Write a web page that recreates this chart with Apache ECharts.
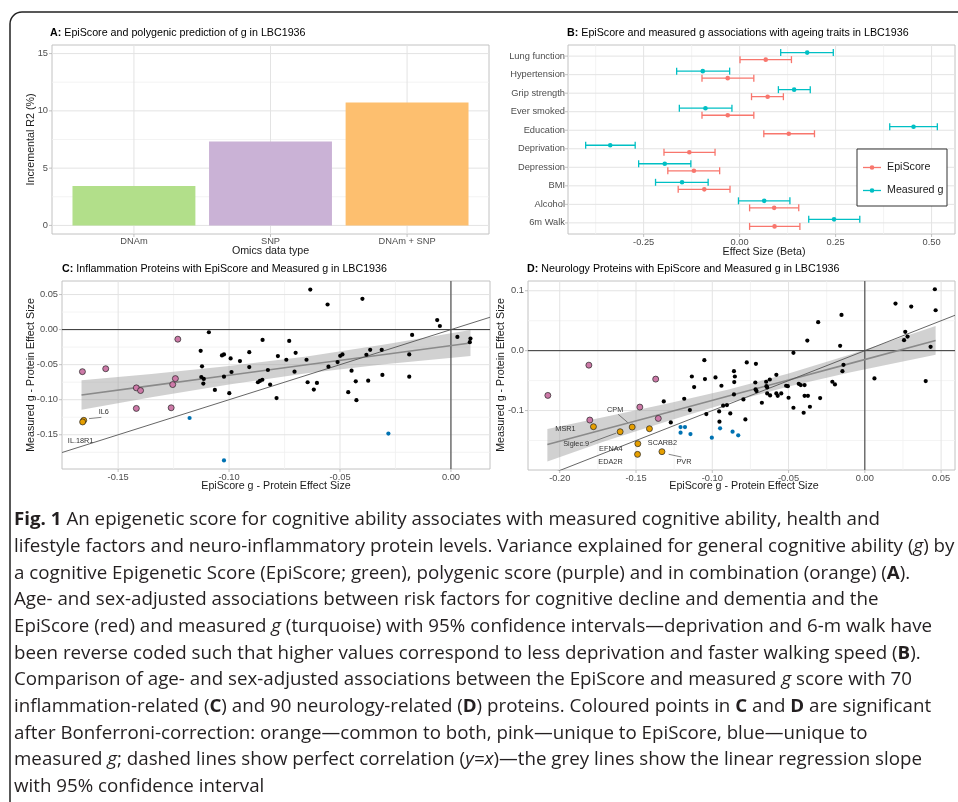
<!DOCTYPE html>
<html><head><meta charset="utf-8">
<script src="https://cdn.jsdelivr.net/npm/echarts@6/dist/echarts.min.js"></script>
<style>html,body{margin:0;padding:0;background:#fff}#main{width:958px;height:802px}</style>
</head><body><div id="main"></div>
<script>
// ---------- Panel A data ----------
const omicsCategories = ['DNAm', 'SNP', 'DNAm + SNP'];
const incrementalR2 = [3.44, 7.32, 10.72];
const aYTicks = [0, 5, 10, 15];
const aYTickLabels = ['0', '5', '10', '15'];

// ---------- Panel B data ----------
const traitCategories = ['Lung function','Hypertension','Grip strength','Ever smoked','Education','Deprivation','Depression','BMI','Alcohol','6m Walk'];
const episcoreBeta = [0.068,-0.031,0.073,-0.031,0.128,-0.131,-0.119,-0.092,0.090,0.091];
const episcoreLo   = [0.001,-0.098,0.031,-0.098,0.063,-0.197,-0.187,-0.160,0.026,0.026];
const episcoreHi   = [0.135,0.037,0.114,0.037,0.195,-0.064,-0.052,-0.025,0.154,0.157];
const measuredBeta = [0.176,-0.096,0.142,-0.089,0.453,-0.337,-0.195,-0.150,0.064,0.246];
const measuredLo   = [0.107,-0.164,0.101,-0.157,0.391,-0.401,-0.263,-0.219,-0.003,0.180];
const measuredHi   = [0.244,-0.026,0.184,-0.020,0.515,-0.272,-0.127,-0.082,0.131,0.313];
const bXTicks = [-0.25, 0, 0.25, 0.5];
const bXTickLabels = ['-0.25', '0.00', '0.25', '0.50'];

// ---------- Panel C data (EpiScore x, Measured g y) ----------
const cBlack = [[-0.1091,-0.0038],[-0.1128,-0.0303],[-0.1032,-0.0368],[-0.1023,-0.0354],[-0.0993,-0.0411],[-0.0951,-0.0449],[-0.0909,-0.0322],[-0.1122,-0.0524],[-0.0909,-0.0534],[-0.0989,-0.0605],[-0.1125,-0.0676],[-0.1114,-0.0704],[-0.1023,-0.0671],[-0.1116,-0.0770],[-0.1064,-0.0860],[-0.0999,-0.0907],[-0.0870,-0.0751],[-0.0861,-0.0732],
[-0.0634,0.0571],[-0.0556,0.0358],[-0.0399,0.0439],[-0.0062,0.0136],[-0.0050,0.0051],[-0.0175,-0.0076],[0.0029,-0.0105],[0.0088,-0.0128],[0.0085,-0.0180],[-0.0849,-0.0147],[-0.0729,-0.0161],[-0.0780,-0.0378],[-0.0700,-0.0331],[-0.0742,-0.0430],[-0.0651,-0.0430],[-0.0825,-0.0576],[-0.0705,-0.0600],[-0.0511,-0.0463],[-0.0499,-0.0374],[-0.0489,-0.0354],[-0.0552,-0.0529],[-0.0381,-0.0359],[-0.0364,-0.0288],[-0.0312,-0.0288],[-0.0188,-0.0354],[-0.0448,-0.0586],[-0.0188,-0.0671],[-0.0309,-0.0647],[-0.0429,-0.0737],[-0.0373,-0.0728],[-0.0850,-0.0715],[-0.0815,-0.0784],[-0.0646,-0.0751],[-0.0604,-0.0761],[-0.0618,-0.0855],[-0.0786,-0.0977],[-0.0463,-0.0892],[-0.0426,-0.1006]];
const cPink = [[-0.1661,-0.0600],[-0.1556,-0.0558],[-0.1231,-0.0137],[-0.1418,-0.0831],[-0.1399,-0.0869],[-0.1242,-0.0699],[-0.1254,-0.0784],[-0.1418,-0.1124],[-0.1261,-0.1115]];
const cOrange = [[-0.1655,-0.1294],[-0.1660,-0.1317]];
const cOrangeNames = ['IL6', 'IL.18R1'];
const cBlue = [[-0.1178,-0.1261],[-0.1023,-0.1866],[-0.0282,-0.1483]];
const cBandX  = [-0.1665,-0.135,-0.10,-0.065,-0.03,0.0088];
const cFitY   = [-0.0932,-0.0799,-0.0651,-0.0502,-0.0354,-0.0190];
const cBandLo = [-0.1142,-0.0966,-0.0783,-0.0622,-0.0494,-0.0375];
const cBandHi = [-0.0722,-0.0632,-0.0519,-0.0382,-0.0214,-0.0005];
const cXTicks = [-0.15,-0.10,-0.05,0];
const cXTickLabels = ['-0.15','-0.10','-0.05','0.00'];
const cYTicks = [-0.15,-0.10,-0.05,0,0.05];
const cYTickLabels = ['-0.15','-0.10','-0.05','0.00','0.05'];

// ---------- Panel D data ----------
const dBlack = [[-0.1052,-0.0158],[-0.0774,-0.0197],[-0.0714,-0.0219],[-0.1134,-0.0431],[-0.1048,-0.0475],[-0.0979,-0.0447],[-0.0858,-0.0342],[-0.0852,-0.0431],[-0.0856,-0.0525],[-0.1119,-0.0608],[-0.0940,-0.0586],[-0.0718,-0.0531],[-0.0858,-0.0731],[-0.1318,-0.0847],[-0.1184,-0.0803],[-0.0796,-0.0814],[-0.0929,-0.0919],[-0.0904,-0.0908],[-0.1147,-0.0992],[-0.0955,-0.1014],[-0.1039,-0.1058],[-0.1272,-0.1197],[-0.0953,-0.1186],[-0.0882,-0.1047],[-0.0783,-0.1147],
[0.0459,0.1025],[0.0201,0.0786],[0.0304,0.0736],[0.0464,0.0675],[-0.0153,0.0597],[-0.0306,0.0475],[-0.0377,0.0169],[-0.0162,0.0081],[0.0265,0.0314],[0.0280,0.0236],[0.0257,0.0175],[0.0431,0.0064],[-0.0468,-0.0036],[0.0063,-0.0464],[0.0399,-0.0508],[-0.0140,-0.0236],[-0.0147,-0.0342],[-0.0647,-0.0519],[-0.0623,-0.0481],[-0.0580,-0.0403],[-0.0716,-0.0647],[-0.0710,-0.0675],[-0.0645,-0.0592],[-0.0640,-0.0614],[-0.0516,-0.0586],[-0.0505,-0.0592],[-0.0433,-0.0553],[-0.0420,-0.0575],[-0.0395,-0.0575],[-0.0213,-0.0519],[-0.0196,-0.0564],[-0.0640,-0.0714],[-0.0621,-0.0747],[-0.0580,-0.0714],[-0.0571,-0.0753],[-0.0548,-0.0714],[-0.0500,-0.0786],[-0.0395,-0.0753],[-0.0373,-0.0753],[-0.0293,-0.0792],[-0.0675,-0.0869],[-0.0468,-0.0953],[-0.0360,-0.0936],[-0.0401,-0.1036]];
const dPink = [[-0.2078,-0.0747],[-0.1809,-0.0242],[-0.1803,-0.1158],[-0.1475,-0.0942],[-0.1371,-0.0475],[-0.1354,-0.1131]];
const dOrange = [[-0.1779,-0.1269],[-0.1604,-0.1353],[-0.1525,-0.1275],[-0.1412,-0.1303],[-0.1488,-0.1553],[-0.1490,-0.1731],[-0.1330,-0.1686]];
const dOrangeNames = ['MSR1','Siglec.9','CPM','SCARB2','EFNA4','EDA2R','PVR'];
const dBlue = [[-0.1208,-0.1275],[-0.1179,-0.1275],[-0.1208,-0.1369],[-0.1143,-0.1392],[-0.1003,-0.1453],[-0.0949,-0.1297],[-0.0867,-0.1353],[-0.0830,-0.1413]];
const dBandX  = [-0.2081,-0.17,-0.13,-0.09,-0.05,-0.01,0.0464];
const dFitY   = [-0.1567,-0.1307,-0.1035,-0.0762,-0.0490,-0.0216,0.0170];
const dBandLo = [-0.1850,-0.1509,-0.1182,-0.0872,-0.0600,-0.0363,-0.0070];
const dBandHi = [-0.1307,-0.1105,-0.0888,-0.0652,-0.0380,-0.0069,0.0410];
const dXTicks = [-0.20,-0.15,-0.10,-0.05,0,0.05];
const dXTickLabels = ['-0.20','-0.15','-0.10','-0.05','0.00','0.05'];
const dYTicks = [-0.1,0,0.1];
const dYTickLabels = ['-0.1','0.0','0.1'];

// ---------- Texts ----------
const panelTitles = [
  ['A:', ' EpiScore and polygenic prediction of g in LBC1936'],
  ['B:', ' EpiScore and measured g associations with ageing traits in LBC1936'],
  ['C:', ' Inflammation Proteins with EpiScore and Measured g in LBC1936'],
  ['D:', ' Neurology Proteins with EpiScore and Measured g in LBC1936']
];
const captionLines = [
 [['b','Fig. 1'],['n',' An epigenetic score for cognitive ability associates with measured cognitive ability, health and']],
 [['n','lifestyle factors and neuro-inflammatory protein levels. Variance explained for general cognitive ability ('],['i','g'],['n',') by']],
 [['n','a cognitive Epigenetic Score (EpiScore; green), polygenic score (purple) and in combination (orange) ('],['b','A'],['n',').']],
 [['n','Age- and sex-adjusted associations between risk factors for cognitive decline and dementia and the']],
 [['n','EpiScore (red) and measured '],['i','g'],['n',' (turquoise) with 95% confidence intervals\u2014deprivation and 6-m walk have']],
 [['n','been reverse coded such that higher values correspond to less deprivation and faster walking speed ('],['b','B'],['n',').']],
 [['n','Comparison of age- and sex-adjusted associations between the EpiScore and measured '],['i','g'],['n',' score with 70']],
 [['n','inflammation-related ('],['b','C'],['n',') and 90 neurology-related ('],['b','D'],['n',') proteins. Coloured points in '],['b','C'],['n',' and '],['b','D'],['n',' are significant']],
 [['n','after Bonferroni-correction: orange\u2014common to both, pink\u2014unique to EpiScore, blue\u2014unique to']],
 [['n','measured '],['i','g'],['n','; dashed lines show perfect correlation ('],['i','y=x'],['n',')\u2014the grey lines show the linear regression slope']],
 [['n','with 95% confidence interval']]
];

// ---------- Styles / layout ----------
const FONT = "'Liberation Sans', Arial, sans-serif";
const CAP_FAMILY = "'Open Sans','Noto Sans','DejaVu Sans',sans-serif";
const CAP_SIZE = 18.5;
const TICK_COLOR = '#4d4d4d';
const barColors = ['#b2df8a', '#cab2d6', '#fdbf6f'];
const EPI_COLOR = '#F8766D', MG_COLOR = '#00BFC4';
const PINK = '#CC79A7', ORANGE = '#E69F00', BLUE = '#0072B2';
const dodge = 0.19;
const labelPlace = {
  'IL6':     {dx: 20, dy: -8, seg: [5.3,-1.7,17.7,-3]},
  'IL.18R1': {dx: -2, dy: 19.5},
  'MSR1':    {dx: -28, dy: 2},
  'Siglec.9':{dx: -44, dy: 12, seg: [-30,11,-4,1.4]},
  'CPM':     {dx: -17, dy: -17, seg: [-14,-12.7,-4.6,-4.7]},
  'SCARB2':  {dx: 13, dy: 14.5},
  'EFNA4':   {dx: -27, dy: 5},
  'EDA2R':   {dx: -27, dy: 8},
  'PVR':     {dx: 22, dy: 10, seg: [6.7,2.6,19.4,5.3]}
};

function minorOf(maj) {
  const step = maj[1] - maj[0], out = [];
  out.push(maj[0] - step / 2);
  for (let i = 0; i < maj.length - 1; i++) out.push((maj[i] + maj[i + 1]) / 2);
  out.push(maj[maj.length - 1] + step / 2);
  return out;
}

function valAxis(gridIndex, min, max, step, ticks, labels, extra) {
  return Object.assign({
    type: 'value', gridIndex, min, max, minInterval: step, maxInterval: step,
    axisLine: {show: false}, axisTick: {show: false}, splitLine: {show: false},
    axisLabel: {
      color: TICK_COLOR, fontSize: 9.3, fontFamily: FONT, margin: 4,
      formatter: v => { const i = ticks.findIndex(t => Math.abs(t - v) < step * 1e-3); return i < 0 ? '' : labels[i]; }
    }
  }, extra || {});
}

function gridLayer(idx, xMaj, xMin, yMaj, yMin) {
  return {
    type: 'custom', xAxisIndex: idx, yAxisIndex: idx, silent: true, z: 1,
    data: [[xMaj[0], yMaj[0]]],
    renderItem(params, api) {
      const cs = params.coordSys;
      const L = cs.x, T = cs.y, R = cs.x + cs.width, B = cs.y + cs.height;
      const px = v => api.coord([v, yMaj[0]])[0];
      const py = v => api.coord([xMaj[0], v])[1];
      const kids = [];
      const ln = (x1, y1, x2, y2, c, w) => kids.push({type: 'line', shape: {x1, y1, x2, y2}, style: {stroke: c, lineWidth: w}});
      xMin.forEach(v => { const p = px(v); if (p > L + 1 && p < R - 1) ln(p, T, p, B, '#f0f0f0', 0.8); });
      yMin.forEach(v => { const p = py(v); if (p > T + 1 && p < B - 1) ln(L, p, R, p, '#f0f0f0', 0.8); });
      xMaj.forEach(v => { const p = px(v); ln(p, T, p, B, '#e3e3e3', 1); ln(p, B, p, B + 3, '#b3b3b3', 0.8); });
      yMaj.forEach(v => { const p = py(v); ln(L, p, R, p, '#e3e3e3', 1); ln(L - 3, p, L, p, '#b3b3b3', 0.8); });
      return {type: 'group', children: kids};
    }
  };
}

function zeroLines(idx) {
  return {
    type: 'custom', xAxisIndex: idx, yAxisIndex: idx, silent: true, z: 3,
    data: [[0, 0]],
    renderItem(params, api) {
      const cs = params.coordSys;
      const o = api.coord([0, 0]);
      return {type: 'group', children: [
        {type: 'line', shape: {x1: cs.x, y1: o[1], x2: cs.x + cs.width, y2: o[1]}, style: {stroke: '#333', lineWidth: 1}},
        {type: 'line', shape: {x1: o[0], y1: cs.y, x2: o[0], y2: cs.y + cs.height}, style: {stroke: '#333', lineWidth: 1}}
      ]};
    }
  };
}

function bandSeries(idx, bx, lo, hi) {
  return {
    type: 'custom', xAxisIndex: idx, yAxisIndex: idx, silent: true, z: 2,
    data: [[bx[0], lo[0]]],
    renderItem(params, api) {
      const pts = bx.map((x, i) => api.coord([x, hi[i]]));
      for (let i = bx.length - 1; i >= 0; i--) pts.push(api.coord([bx[i], lo[i]]));
      return {type: 'polygon', shape: {points: pts}, style: {fill: '#9a9a9a', opacity: 0.45}};
    }
  };
}

function fitLine(idx, bx, fy) {
  return {type: 'line', xAxisIndex: idx, yAxisIndex: idx, silent: true, z: 4, symbol: 'none',
    data: bx.map((x, i) => [x, fy[i]]), lineStyle: {color: '#8a8a8a', width: 1.6}};
}
function identityLine(idx, xmin, xmax) {
  return {type: 'line', xAxisIndex: idx, yAxisIndex: idx, silent: true, z: 4, symbol: 'none', clip: true,
    data: [[xmin, xmin], [xmax, xmax]], lineStyle: {color: '#555', width: 0.9}};
}
function pts(idx, data, color, size, border) {
  return {type: 'scatter', xAxisIndex: idx, yAxisIndex: idx, silent: true, z: 5, data, symbolSize: size,
    itemStyle: border ? {color, borderColor: '#222', borderWidth: 0.7, opacity: 1} : {color, opacity: 1}};
}
function labelSeries(idx, data, names) {
  return {
    type: 'custom', xAxisIndex: idx, yAxisIndex: idx, silent: true, z: 6,
    data: data.map(p => [p[0], p[1]]),
    renderItem(params, api) {
      const nm = names[params.dataIndex];
      const pl = labelPlace[nm];
      const c = api.coord([api.value(0), api.value(1)]);
      const kids = [{type: 'text', x: c[0] + pl.dx, y: c[1] + pl.dy,
        style: {text: nm, align: 'center', verticalAlign: 'middle', fontSize: 7.3, fontFamily: FONT, fill: '#333'}}];
      if (pl.seg) kids.push({type: 'line', shape: {x1: c[0] + pl.seg[0], y1: c[1] + pl.seg[1], x2: c[0] + pl.seg[2], y2: c[1] + pl.seg[3]},
        style: {stroke: '#333', lineWidth: 0.6}});
      return {type: 'group', children: kids};
    }
  };
}
function errSeries(name, color, betas, los, his, offset) {
  return {
    type: 'custom', name, xAxisIndex: 1, yAxisIndex: 1, z: 5, silent: true,
    data: traitCategories.map((c, i) => [betas[i], i + 1 + offset, los[i], his[i]]),
    encode: {x: [0, 2, 3], y: 1},
    renderItem(params, api) {
      const y = api.value(1);
      const a = api.coord([api.value(2), y]), b = api.coord([api.value(3), y]), c = api.coord([api.value(0), y]);
      const cap = 3.5, st = {stroke: color, lineWidth: 1.3};
      return {type: 'group', children: [
        {type: 'line', shape: {x1: a[0], y1: a[1], x2: b[0], y2: b[1]}, style: st},
        {type: 'line', shape: {x1: a[0], y1: a[1] - cap, x2: a[0], y2: a[1] + cap}, style: st},
        {type: 'line', shape: {x1: b[0], y1: b[1] - cap, x2: b[0], y2: b[1] + cap}, style: st},
        {type: 'circle', shape: {cx: c[0], cy: c[1], r: 2.3}, style: {fill: color}}
      ]};
    }
  };
}

// axis ranges (ggplot-style expanded limits)
const aX = [0.4, 3.6], aY = [-0.75, 15.75];
const bX = [-0.447, 0.561], bY = [0.4, 10.6];
const cX = [-0.1753, 0.0176], cY = [-0.1988, 0.0693];
const dX = [-0.2208, 0.0591], dY = [-0.1992, 0.1163];
const aXTicks = omicsCategories.map((c, i) => i + 1);
const bYTicks = traitCategories.map((c, i) => i + 1);

// ---------- caption sizing (horizontal condensing to the reference line width) ----------
const mctx = document.createElement('canvas').getContext('2d');
const segFont = (k, s) => (k === 'i' ? 'italic ' : '') + (k === 'b' ? 'bold ' : '') + s + 'px ' + CAP_FAMILY;
const lineW = (line, s) => line.reduce((w, [k, t]) => { mctx.font = segFont(k, s); return w + mctx.measureText(t).width; }, 0);
const capScaleX = 866 / lineW(captionLines[0], CAP_SIZE);
const capRich = {
  n: {fontSize: CAP_SIZE, fontFamily: CAP_FAMILY, fill: '#231f20'},
  b: {fontSize: CAP_SIZE, fontFamily: CAP_FAMILY, fill: '#231f20', fontWeight: 'bold'},
  i: {fontSize: CAP_SIZE, fontFamily: CAP_FAMILY, fill: '#231f20', fontStyle: 'italic'}
};
const titleRich = {
  b: {fontSize: 10.7, fontFamily: FONT, fill: '#000', fontWeight: 'bold'},
  n: {fontSize: 10.7, fontFamily: FONT, fill: '#000'}
};
const titlePos = [[50, 33], [567, 33], [62, 269], [527, 269]];
const axisTitles = [
  {t: 'Incremental R2 (%)', x: 31, y: 139.5, r: true},
  {t: 'Omics data type', x: 270.5, y: 251},
  {t: 'Effect Size (Beta)', x: 764, y: 252},
  {t: 'Measured g - Protein Effect Size', x: 31, y: 375, r: true},
  {t: 'EpiScore g - Protein Effect Size', x: 276, y: 486},
  {t: 'Measured g - Protein Effect Size', x: 501, y: 375, r: true},
  {t: 'EpiScore g - Protein Effect Size', x: 744, y: 486}
];

const graphics = [];
graphics.push({type: 'rect', shape: {x: 10, y: 12, width: 1000, height: 850, r: 12}, style: {fill: 'none', stroke: '#222', lineWidth: 1.5}, silent: true});
panelTitles.forEach((pt, i) => graphics.push({type: 'text', x: titlePos[i][0], y: titlePos[i][1],
  style: {text: '{b|' + pt[0] + '}{n|' + pt[1] + '}', rich: titleRich, verticalAlign: 'middle', align: 'left'}}));
axisTitles.forEach(a => graphics.push({type: 'text', x: a.x, y: a.y, rotation: a.r ? Math.PI / 2 : 0,
  style: {text: a.t, fontSize: 10.7, fontFamily: FONT, fill: '#1a1a1a', align: 'center', verticalAlign: 'middle'}}));
// legend for panel B
const LZ = 100;
graphics.push({type: 'rect', z: LZ, shape: {x: 857, y: 149, width: 90, height: 57}, style: {fill: '#fff', stroke: '#333', lineWidth: 1}});
[[EPI_COLOR, 'EpiScore', 167.5], [MG_COLOR, 'Measured g', 190.5]].forEach(([col, txt, yy]) => {
  graphics.push({type: 'line', z: LZ + 1, shape: {x1: 863, y1: yy, x2: 881, y2: yy}, style: {stroke: col, lineWidth: 1.3}});
  graphics.push({type: 'circle', z: LZ + 1, shape: {cx: 872, cy: yy, r: 2.3}, style: {fill: col}});
  graphics.push({type: 'text', z: LZ + 1, x: 887, y: yy, style: {text: txt, fontSize: 10.7, fontFamily: FONT, fill: '#1a1a1a', verticalAlign: 'middle'}});
});
const capY0 = 520, capStep = 26.67;
captionLines.forEach((line, i) => graphics.push({type: 'text', x: 14, y: capY0 + i * capStep, scaleX: capScaleX,
  style: {text: line.map(([k, t]) => '{' + k + '|' + t + '}').join(''), rich: capRich, verticalAlign: 'middle', align: 'left'}}));

const gridStyle = {show: true, borderColor: '#c2c2c2', borderWidth: 1, backgroundColor: 'transparent'};
const option = {
  animation: false,
  backgroundColor: '#fff',
  grid: [
    Object.assign({left: 52, top: 45, width: 437, height: 189}, gridStyle),
    Object.assign({left: 568, top: 45, width: 392.5, height: 189}, gridStyle),
    Object.assign({left: 62, top: 281, width: 428, height: 188}, gridStyle),
    Object.assign({left: 528, top: 281, width: 432.5, height: 189}, gridStyle)
  ],
  xAxis: [
    valAxis(0, aX[0], aX[1], 1, aXTicks, omicsCategories, {axisLabel: {color: TICK_COLOR, fontSize: 9.3, fontFamily: FONT, margin: 3,
      formatter: v => Number.isInteger(v) && v >= 1 && v <= omicsCategories.length ? omicsCategories[v - 1] : ''}}),
    valAxis(1, bX[0], bX[1], 0.25, bXTicks, bXTickLabels, {}),
    valAxis(2, cX[0], cX[1], 0.05, cXTicks, cXTickLabels, {}),
    valAxis(3, dX[0], dX[1], 0.05, dXTicks, dXTickLabels, {})
  ],
  yAxis: [
    valAxis(0, aY[0], aY[1], 5, aYTicks, aYTickLabels, {}),
    valAxis(1, bY[0], bY[1], 1, bYTicks, traitCategories, {inverse: true, axisLabel: {color: TICK_COLOR, fontSize: 9.3, fontFamily: FONT, margin: 3,
      formatter: v => Number.isInteger(v) && v >= 1 && v <= traitCategories.length ? traitCategories[v - 1] : ''}}),
    valAxis(2, cY[0], cY[1], 0.05, cYTicks, cYTickLabels, {}),
    valAxis(3, dY[0], dY[1], 0.1, dYTicks, dYTickLabels, {})
  ],
  graphic: {elements: graphics},
  series: [
    gridLayer(0, aXTicks, [], aYTicks, minorOf(aYTicks)),
    gridLayer(1, bXTicks, minorOf(bXTicks), bYTicks, []),
    gridLayer(2, cXTicks, minorOf(cXTicks), cYTicks, minorOf(cYTicks)),
    gridLayer(3, dXTicks, minorOf(dXTicks), dYTicks, minorOf(dYTicks)),
    {
      type: 'custom', xAxisIndex: 0, yAxisIndex: 0, z: 2, silent: true,
      data: omicsCategories.map((c, i) => [i + 1, incrementalR2[i]]),
      renderItem(params, api) {
        const i = api.value(0), v = api.value(1);
        const p1 = api.coord([i - 0.45, v]), p2 = api.coord([i + 0.45, 0]);
        return {type: 'rect', shape: {x: p1[0], y: p1[1], width: p2[0] - p1[0], height: p2[1] - p1[1]}, style: {fill: barColors[params.dataIndex]}};
      }
    },
    errSeries('Measured g', MG_COLOR, measuredBeta, measuredLo, measuredHi, -dodge),
    errSeries('EpiScore', EPI_COLOR, episcoreBeta, episcoreLo, episcoreHi, dodge),
    // panel C
    zeroLines(2), bandSeries(2, cBandX, cBandLo, cBandHi), fitLine(2, cBandX, cFitY), identityLine(2, cX[0], cX[1]),
    pts(2, cBlack, '#000', 4.2, false), pts(2, cBlue, BLUE, 4.2, false),
    pts(2, cPink, PINK, 6, true), pts(2, cOrange, ORANGE, 6, true), labelSeries(2, cOrange, cOrangeNames),
    // panel D
    zeroLines(3), bandSeries(3, dBandX, dBandLo, dBandHi), fitLine(3, dBandX, dFitY), identityLine(3, dX[0], dX[1]),
    pts(3, dBlack, '#000', 4.2, false), pts(3, dBlue, BLUE, 4.2, false),
    pts(3, dPink, PINK, 6, true), pts(3, dOrange, ORANGE, 6, true), labelSeries(3, dOrange, dOrangeNames)
  ]
};
const chart = echarts.init(document.getElementById('main'), null, {renderer: 'canvas'});
chart.setOption(option);
</script>
</body></html>
